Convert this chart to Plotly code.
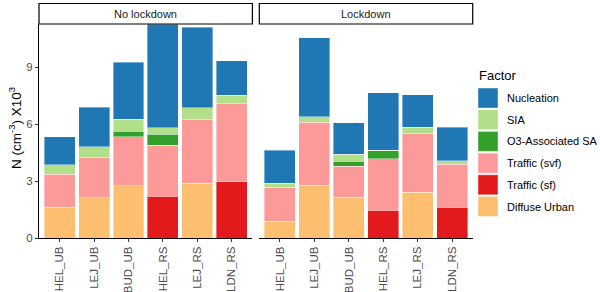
import plotly.graph_objects as go

W, H = 600, 292

sites = ["HEL_UB", "LEJ_UB", "BUD_UB", "HEL_RS", "LEJ_RS", "LDN_RS"]
panels = ["No lockdown", "Lockdown"]
factors = ["Nucleation", "SIA", "O3-Associated SA", "Traffic (svf)", "Traffic (sf)", "Diffuse Urban"]
colors = {
    "Nucleation": "#1F78B4",
    "SIA": "#B2DF8A",
    "O3-Associated SA": "#33A02C",
    "Traffic (svf)": "#FB9A99",
    "Traffic (sf)": "#E31A1C",
    "Diffuse Urban": "#FDBF6F",
}

# values in N (cm-3) x10^3, per panel, per factor, per site
diffuse_urban_nolock = [1.62, 2.12, 2.74, 0, 2.89, 0]
traffic_sf_nolock = [0, 0, 0, 2.21, 0, 2.96]
traffic_svf_nolock = [1.75, 2.14, 2.58, 2.68, 3.34, 4.11]
o3_sa_nolock = [0, 0, 0.31, 0.58, 0, 0]
sia_nolock = [0.49, 0.55, 0.62, 0.34, 0.63, 0.44]
nucleation_nolock = [1.47, 2.08, 3.01, 5.46, 4.23, 1.82]

diffuse_urban_lock = [0.88, 2.77, 2.14, 0, 2.42, 0]
traffic_sf_lock = [0, 0, 0, 1.47, 0, 1.63]
traffic_svf_lock = [1.79, 3.32, 1.65, 2.70, 3.09, 2.26]
o3_sa_lock = [0, 0, 0.25, 0.42, 0, 0]
sia_lock = [0.21, 0.30, 0.38, 0.03, 0.31, 0.19]
nucleation_lock = [1.73, 4.15, 1.65, 3.03, 1.72, 1.76]

data = {
    "No lockdown": {
        "Diffuse Urban": diffuse_urban_nolock,
        "Traffic (sf)": traffic_sf_nolock,
        "Traffic (svf)": traffic_svf_nolock,
        "O3-Associated SA": o3_sa_nolock,
        "SIA": sia_nolock,
        "Nucleation": nucleation_nolock,
    },
    "Lockdown": {
        "Diffuse Urban": diffuse_urban_lock,
        "Traffic (sf)": traffic_sf_lock,
        "Traffic (svf)": traffic_svf_lock,
        "O3-Associated SA": o3_sa_lock,
        "SIA": sia_lock,
        "Nucleation": nucleation_lock,
    },
}
y_ticks = [0, 3, 6, 9]
y_max = 11.27

FONT = "Liberation Sans, Arial, Helvetica, sans-serif"


def px(x):
    return x / W


def py(y):
    return 1 - y / H


fig = go.Figure()
stack_order = ["Diffuse Urban", "Traffic (sf)", "Traffic (svf)", "O3-Associated SA", "SIA", "Nucleation"]
for i, panel in enumerate(panels):
    xa = "x" if i == 0 else "x2"
    ya = "y" if i == 0 else "y2"
    for f in stack_order:
        vals = [v if v else None for v in data[panel][f]]
        fig.add_trace(go.Bar(
            x=sites, y=vals, name=f, xaxis=xa, yaxis=ya,
            marker=dict(color=colors[f], line=dict(color="rgba(255,255,255,0.55)", width=0.7)),
            showlegend=False, hoverinfo="x+y+name",
        ))

plot_top, plot_bot = 24, 238
doms = [(39, 252.4), (259.3, 472.7)]
ydom = [py(plot_bot), py(plot_top)]

axis_common = dict(
    showline=True, linecolor="black", linewidth=1, ticks="outside", ticklen=3,
    tickcolor="#333333", tickwidth=1, showgrid=False, zeroline=False, automargin=False,
    tickfont=dict(family=FONT, size=11.5, color="#4D4D4D"),
)
fig.update_layout(
    template="none",
    xaxis=dict(domain=[px(doms[0][0]), px(doms[0][1])], anchor="y", type="category",
               range=[-0.6, 5.6], tickangle=-90, **axis_common),
    xaxis2=dict(domain=[px(doms[1][0]), px(doms[1][1])], anchor="y2", type="category",
                range=[-0.6, 5.6], tickangle=-90, **axis_common),
    yaxis=dict(domain=ydom, anchor="x", range=[0, y_max], tickvals=y_ticks, **axis_common),
    yaxis2=dict(domain=ydom, anchor="x2", range=[0, y_max], tickvals=y_ticks, automargin=False,
                showticklabels=False, showline=False, ticks="", showgrid=False, zeroline=False),
    barmode="stack", bargap=0.1,
    width=W, height=H, margin=dict(l=0, r=0, t=0, b=0, pad=0), autosize=False,
    paper_bgcolor="white", plot_bgcolor="white",
    font=dict(family=FONT, color="black"),
    showlegend=False,
)

shapes = []
annotations = []
# facet strips
for (x0, x1), panel in zip(doms, panels):
    shapes.append(dict(type="rect", xref="paper", yref="paper",
                       x0=px(x0), x1=px(x1), y0=py(24), y1=py(3.5),
                       line=dict(color="black", width=1.2), fillcolor="white"))
    annotations.append(dict(xref="paper", yref="paper", x=px((x0 + x1) / 2), y=py(13.8),
                            text=panel, showarrow=False, xanchor="center", yanchor="middle",
                            font=dict(family=FONT, size=11, color="#1A1A1A")))

# y-axis title
annotations.append(dict(xref="paper", yref="paper", x=px(15), y=py(128),
                        text="N (cm<sup>-3</sup>) X10<sup>3</sup>", textangle=-90, showarrow=False,
                        xanchor="center", yanchor="middle",
                        font=dict(family=FONT, size=13.5, color="black")))

# legend (manual, ggplot-style keys)
annotations.append(dict(xref="paper", yref="paper", x=px(477), y=py(75), text="Factor",
                        showarrow=False, xanchor="left", yanchor="middle",
                        font=dict(family=FONT, size=13, color="black")))
key_top0, key_step, key_size = 88, 21.7, 20
for k, f in enumerate(factors):
    t = key_top0 + k * key_step
    shapes.append(dict(type="rect", xref="paper", yref="paper",
                       x0=px(478), x1=px(478 + key_size), y0=py(t + key_size), y1=py(t),
                       line=dict(color="rgba(255,255,255,0.6)", width=0.7), fillcolor=colors[f]))
    annotations.append(dict(xref="paper", yref="paper", x=px(505), y=py(t + key_size / 2),
                            text=f, showarrow=False, xanchor="left", yanchor="middle",
                            font=dict(family=FONT, size=11, color="black")))

fig.update_layout(shapes=shapes, annotations=annotations)
fig.write_html(
    "out.html",
    config={"displayModeBar": False},
    post_script="document.body.style.margin='0';document.body.style.overflow='hidden';",
)
